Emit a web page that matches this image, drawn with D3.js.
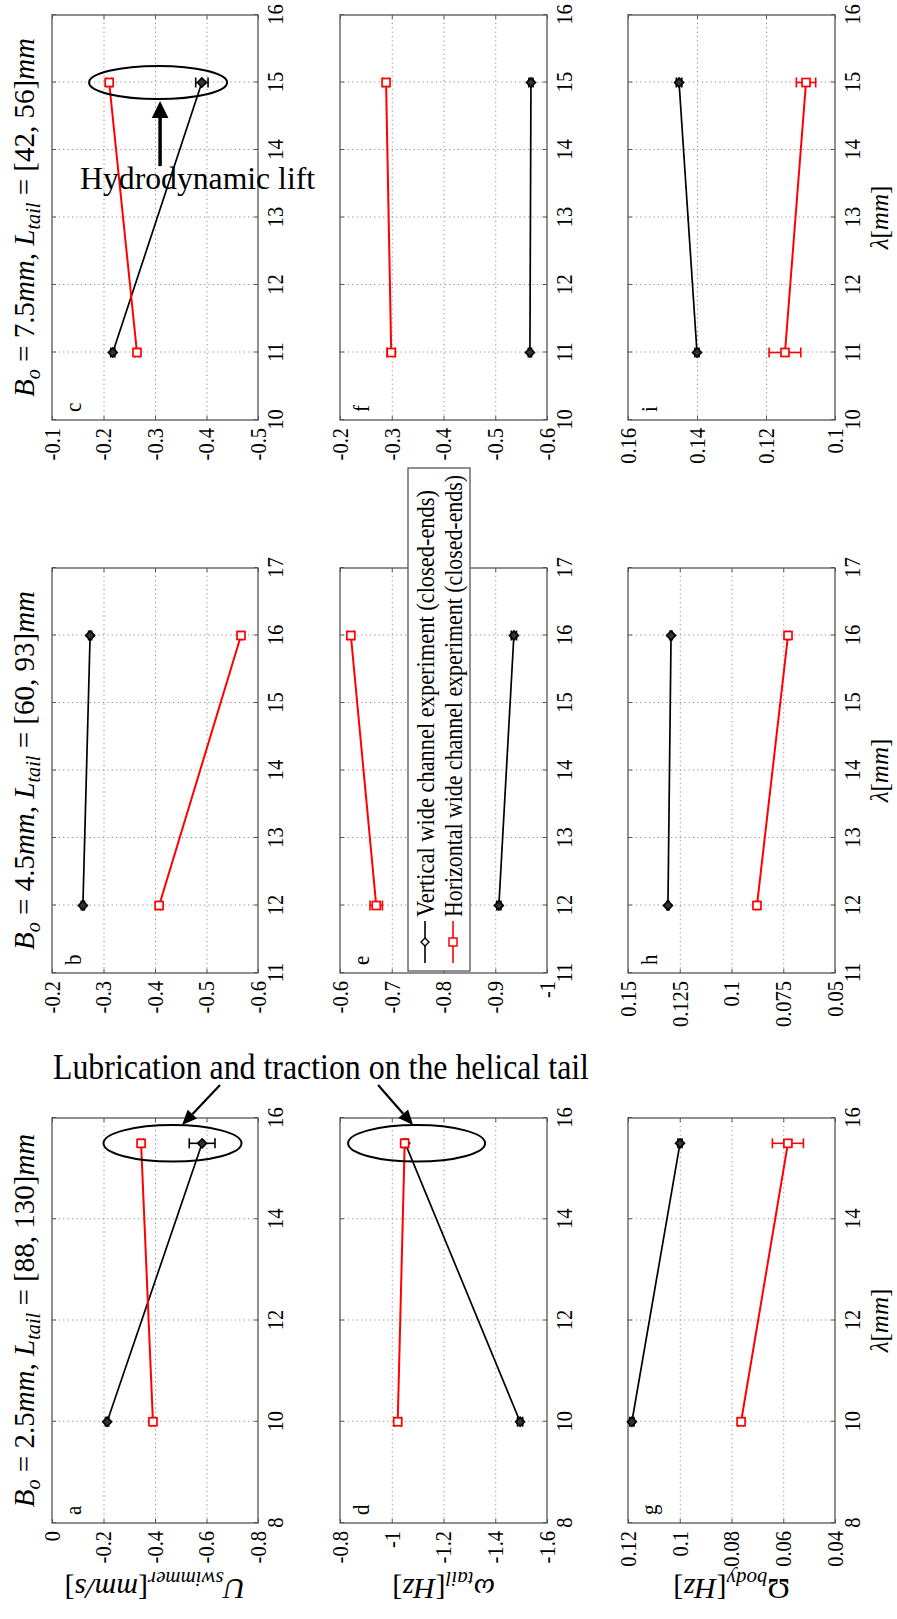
<!DOCTYPE html>
<html>
<head>
<meta charset="utf-8">
<title>Swimmer kinematics versus helix wavelength</title>
<script src="https://cdn.jsdelivr.net/npm/d3@7/dist/d3.min.js"></script>
<style>
  html, body { margin: 0; padding: 0; background: #fff; }
  svg { display: block; }
  text { font-family: "Liberation Serif", "Times New Roman", serif; fill: #000; }
</style>
</head>
<body>
<svg id="fig" width="897" height="1619"></svg>
<script>
// ---------------- data ----------------
// helix wavelength λ [mm] tested for each magnet size B_o
const lambdaB25 = [10, 15.5];
const lambdaB45 = [12, 16];
const lambdaB75 = [11, 15];

// swimmer velocity U_swimmer [mm/s]: vertical / horizontal channel, with error half-widths
const uVert25 = [-0.214, -0.583], uVertErr25 = [0.006, 0.05];
const uHorz25 = [-0.392, -0.346], uHorzErr25 = [0.006, 0.008];
const uVert45 = [-0.260, -0.274], uVertErr45 = [0.003, 0.003];
const uHorz45 = [-0.408, -0.567], uHorzErr45 = [0.003, 0.003];
const uVert75 = [-0.218, -0.391], uVertErr75 = [0.004, 0.012];
const uHorz75 = [-0.265, -0.211], uHorzErr75 = [0.004, 0.005];

// tail rotation rate ω_tail [Hz]
const wVert25 = [-1.496, -1.052], wVertErr25 = [0.01, 0.01];
const wHorz25 = [-1.023, -1.050], wHorzErr25 = [0.014, 0.01];
const wVert45 = [-0.907, -0.936], wVertErr45 = [0.004, 0.005];
const wHorz45 = [-0.670, -0.621], wHorzErr45 = [0.012, 0.006];
const wVert75 = [-0.567, -0.569], wVertErr75 = [0.003, 0.004];
const wHorz75 = [-0.299, -0.289], wHorzErr75 = [0.008, 0.005];

// body counter-rotation rate Ω_body [Hz]
const oVert25 = [0.1185, 0.0999], oVertErr25 = [0.0008, 0.0008];
const oHorz25 = [0.0763, 0.0582], oHorzErr25 = [0.001, 0.006];
const oVert45 = [0.1307, 0.1292], oVertErr45 = [0.0005, 0.0005];
const oHorz45 = [0.0877, 0.0727], oHorzErr45 = [0.0008, 0.0008];
const oVert75 = [0.1400, 0.1452], oVertErr75 = [0.0006, 0.0008];
const oHorz75 = [0.1145, 0.1084], oHorzErr75 = [0.0046, 0.0028];

// axis ticks
const lamTicks25 = [8, 10, 12, 14, 16];
const lamTicks45 = [11, 12, 13, 14, 15, 16, 17];
const lamTicks75 = [10, 11, 12, 13, 14, 15, 16];
const uTicks25 = [0, -0.2, -0.4, -0.6, -0.8];
const uTicks45 = [-0.2, -0.3, -0.4, -0.5, -0.6];
const uTicks75 = [-0.1, -0.2, -0.3, -0.4, -0.5];
const wTicks25 = [-0.8, -1, -1.2, -1.4, -1.6];
const wTicks45 = [-0.6, -0.7, -0.8, -0.9, -1];
const wTicks75 = [-0.2, -0.3, -0.4, -0.5, -0.6];
const oTicks25 = [0.12, 0.1, 0.08, 0.06, 0.04];
const oTicks45 = [0.15, 0.125, 0.1, 0.075, 0.05];
const oTicks75 = [0.16, 0.14, 0.12, 0.1];

const panelLetters = [["a", "b", "c"], ["d", "e", "f"], ["g", "h", "i"]];
const legendLabels = ["Vertical wide channel experiment (closed-ends)",
                      "Horizontal wide channel experiment (closed-ends)"];

// ---------------- layout ----------------
// The figure is laid out landscape (W x H) and turned a quarter turn onto the page.
const W = 1619, H = 897;
const colSpan = [[96, 501], [646, 1051], [1199, 1604]];
const rowSpan = [[52, 258], [340, 547], [628, 835]];
const GRID = "#8c8c8c", BOX = "#555";
const RED = "#ff0000", BLACK = "#000";
const TEXT_K = 1.13; // glyph height stretch of the plot lettering

const lambdaSets = [lambdaB25, lambdaB45, lambdaB75];
const lamTickSets = [lamTicks25, lamTicks45, lamTicks75];
const valTickSets = [[uTicks25, uTicks45, uTicks75], [wTicks25, wTicks45, wTicks75], [oTicks25, oTicks45, oTicks75]];
const vertSets = [[uVert25, uVert45, uVert75], [wVert25, wVert45, wVert75], [oVert25, oVert45, oVert75]];
const vertErrSets = [[uVertErr25, uVertErr45, uVertErr75], [wVertErr25, wVertErr45, wVertErr75], [oVertErr25, oVertErr45, oVertErr75]];
const horzSets = [[uHorz25, uHorz45, uHorz75], [wHorz25, wHorz45, wHorz75], [oHorz25, oHorz45, oHorz75]];
const horzErrSets = [[uHorzErr25, uHorzErr45, uHorzErr75], [wHorzErr25, wHorzErr45, wHorzErr75], [oHorzErr25, oHorzErr45, oHorzErr75]];

const svg = d3.select("#fig");
svg.append("rect").attr("width", 897).attr("height", 1619).attr("fill", "#fff");
const fig = svg.append("g").attr("transform", `translate(0,${W}) rotate(-90)`);

// landscape -> page coordinates
const toPage = (x, y) => [y, W - x];

function stretchY(sel, k) {
  sel.each(function () {
    const b = this.getBBox();
    const cy = b.y + b.height / 2;
    const prev = this.getAttribute("transform") || "";
    this.setAttribute("transform", `${prev} translate(0,${cy}) scale(1,${k}) translate(0,${-cy})`);
  });
}

// math-style label made of roman / italic / subscript pieces
function mathLabel(sel, parts, size) {
  sel.attr("font-size", size).attr("xml:space", "preserve").style("white-space", "pre");
  let shifted = false;
  parts.forEach(([txt, kind]) => {
    const t = sel.append("tspan").text(txt);
    if (kind === "s") {
      t.attr("font-style", "italic").attr("font-size", size * 0.7);
      if (!shifted) { t.attr("dy", size * 0.22); shifted = true; }
    } else {
      if (shifted) { t.attr("dy", -size * 0.22); shifted = false; }
      if (kind === "i") t.attr("font-style", "italic");
    }
  });
}

const diamond = r => `M0,${-r}L${r},0L0,${r}L${-r},0Z`;
const scales = {};

for (let r = 0; r < 3; r++) {
  for (let c = 0; c < 3; c++) {
    const [x0, x1] = colSpan[c];
    const [y0, y1] = rowSpan[r];
    const lt = lamTickSets[c];
    const vt = valTickSets[r][c];
    const x = d3.scaleLinear().domain([lt[0], lt[lt.length - 1]]).range([x0, x1]);
    const y = d3.scaleLinear().domain(d3.extent(vt)).range([y1, y0]);
    const letter = panelLetters[r][c];
    scales[letter] = { x, y };
    const g = fig.append("g").attr("class", "panel-" + letter);

    // dotted grid on the interior ticks
    const xin = lt.slice(1, -1);
    const vs = vt.slice().sort((a, b) => a - b);
    const yin = vs.slice(1, -1);
    g.append("g").attr("transform", `translate(0,${y1})`)
      .call(d3.axisBottom(x).tickValues(xin).tickSize(-(y1 - y0)).tickFormat(""))
      .call(s => s.select(".domain").remove())
      .selectAll("line").attr("stroke", GRID).attr("stroke-width", 1).attr("stroke-dasharray", "1.2,3.2");
    g.append("g").attr("transform", `translate(${x0},0)`)
      .call(d3.axisLeft(y).tickValues(yin).tickSize(-(x1 - x0)).tickFormat(""))
      .call(s => s.select(".domain").remove())
      .selectAll("line").attr("stroke", GRID).attr("stroke-width", 1).attr("stroke-dasharray", "1.2,3.2");

    // axes with inward ticks
    const fmt = d => String(d);
    const ax = g.append("g").attr("transform", `translate(0,${y1})`)
      .call(d3.axisBottom(x).tickValues(lt).tickSize(-4).tickPadding(10).tickFormat(fmt));
    const ay = g.append("g").attr("transform", `translate(${x0},0)`)
      .call(d3.axisLeft(y).tickValues(vt).tickSize(-4).tickPadding(8).tickFormat(fmt));
    g.append("g").attr("transform", `translate(0,${y0})`)
      .call(d3.axisTop(x).tickValues(lt).tickSize(-4).tickFormat(""));
    g.append("g").attr("transform", `translate(${x1},0)`)
      .call(d3.axisRight(y).tickValues(vt).tickSize(-4).tickFormat(""));
    g.selectAll(".domain").remove();
    g.selectAll(".tick line").filter(function () { return !this.getAttribute("stroke-dasharray"); })
      .attr("stroke", BOX).attr("stroke-width", 1);
    [ax, ay].forEach(a => a.attr("font-family", null).attr("font-size", null)
      .selectAll("text").attr("font-size", 20.5).attr("fill", "#000"));
    ax.selectAll("text").attr("dy", "0.71em");
    stretchY(ax.selectAll("text"), TEXT_K);
    stretchY(ay.selectAll("text"), TEXT_K);

    g.append("rect").attr("x", x0).attr("y", y0).attr("width", x1 - x0).attr("height", y1 - y0)
      .attr("fill", "none").attr("stroke", BOX).attr("stroke-width", 1.3);

    // panel letter
    const lab = g.append("text").attr("x", x0 + 8).attr("y", y0 + 28).attr("font-size", 21).text(letter);
    stretchY(lab, TEXT_K);

    // series: vertical channel (black diamonds), horizontal channel (red squares)
    const lam = lambdaSets[c];
    const series = [
      { vals: vertSets[r][c], errs: vertErrSets[r][c], color: BLACK, marker: "d", w: 1.7 },
      { vals: horzSets[r][c], errs: horzErrSets[r][c], color: RED, marker: "s", w: 2 }
    ];
    series.forEach(s => {
      const pts = lam.map((l, i) => ({ l, v: s.vals[i], e: s.errs[i] }));
      g.append("path").datum(pts)
        .attr("d", d3.line().x(p => x(p.l)).y(p => y(p.v)))
        .attr("fill", "none").attr("stroke", s.color).attr("stroke-width", s.w);
      const eb = g.append("g").attr("stroke", s.color).attr("stroke-width", 1.6);
      pts.forEach(p => {
        const px = x(p.l);
        eb.append("line").attr("x1", px).attr("x2", px).attr("y1", y(p.v - p.e)).attr("y2", y(p.v + p.e));
        [p.v - p.e, p.v + p.e].forEach(v => eb.append("line")
          .attr("x1", px - 5).attr("x2", px + 5).attr("y1", y(v)).attr("y2", y(v)));
      });
      const mk = g.append("g");
      pts.forEach(p => {
        if (s.marker === "s") {
          mk.append("rect").attr("x", x(p.l) - 4).attr("y", y(p.v) - 4).attr("width", 8).attr("height", 8)
            .attr("fill", "#fff").attr("stroke", s.color).attr("stroke-width", 1.7);
        } else {
          mk.append("path").attr("transform", `translate(${x(p.l)},${y(p.v)})`).attr("d", diamond(4.5))
            .attr("fill", "#333").attr("stroke", s.color).attr("stroke-width", 1.6);
        }
      });
    });
  }
}

// column titles
const titleParts = [
  [["B", "i"], ["o", "s"], [" = 2.5", "r"], ["mm", "i"], [", ", "r"], ["L", "i"], ["tail", "s"], [" = [88, 130]", "r"], ["mm", "i"]],
  [["B", "i"], ["o", "s"], [" = 4.5", "r"], ["mm", "i"], [", ", "r"], ["L", "i"], ["tail", "s"], [" = [60, 93]", "r"], ["mm", "i"]],
  [["B", "i"], ["o", "s"], [" = 7.5", "r"], ["mm", "i"], [", ", "r"], ["L", "i"], ["tail", "s"], [" = [42, 56]", "r"], ["mm", "i"]]
];
titleParts.forEach((parts, c) => {
  const t = fig.append("text").attr("x", (colSpan[c][0] + colSpan[c][1]) / 2).attr("y", 34)
    .attr("text-anchor", "middle");
  mathLabel(t, parts, 29);
});

// row labels
const rowLabelParts = [
  [["U", "i"], ["swimmer", "s"], ["[", "r"], ["mm/s", "i"], ["]", "r"]],
  [["ω", "i"], ["tail", "s"], ["[", "r"], ["Hz", "i"], ["]", "r"]],
  [["Ω", "r"], ["body", "s"], ["[", "r"], ["Hz", "i"], ["]", "r"]]
];
rowLabelParts.forEach((parts, r) => {
  const cy = (rowSpan[r][0] + rowSpan[r][1]) / 2;
  const t = fig.append("text").attr("transform", `translate(40,${cy}) rotate(-90)`)
    .attr("text-anchor", "middle");
  mathLabel(t, parts, 30);
});

// λ axis labels under the bottom row
colSpan.forEach(([a, b]) => {
  const t = fig.append("text").attr("x", (a + b) / 2).attr("y", 888).attr("text-anchor", "middle");
  mathLabel(t, [["λ", "i"], ["[", "r"], ["mm", "i"], ["]", "r"]], 25);
});

// legend inside panel e
{
  const x0 = colSpan[1][0], y0 = rowSpan[1][0];
  const lg = fig.append("g").attr("transform", `translate(${x0 + 2},${y0 + 68})`);
  lg.append("rect").attr("width", 503).attr("height", 62).attr("fill", "#fff")
    .attr("stroke", BOX).attr("stroke-width", 1.3);
  const rows = [
    { color: BLACK, marker: "d", len: 427 },
    { color: RED, marker: "s", len: 442 }
  ];
  rows.forEach((row, i) => {
    const yy = 17 + i * 28;
    lg.append("line").attr("x1", 8).attr("x2", 50).attr("y1", yy).attr("y2", yy)
      .attr("stroke", row.color).attr("stroke-width", 1.6);
    if (row.marker === "s") {
      lg.append("rect").attr("x", 25).attr("y", yy - 4).attr("width", 8).attr("height", 8)
        .attr("fill", "#fff").attr("stroke", row.color).attr("stroke-width", 1.5);
    } else {
      lg.append("path").attr("transform", `translate(29,${yy})`).attr("d", diamond(4))
        .attr("fill", "#fff").attr("stroke", row.color).attr("stroke-width", 1.4);
    }
    const t = lg.append("text").attr("x", 54).attr("y", yy).attr("dy", "0.35em").attr("font-size", 22)
      .attr("textLength", row.len).attr("lengthAdjust", "spacingAndGlyphs").text(legendLabels[i]);
    stretchY(t, TEXT_K);
  });
}

// ---------------- callouts ----------------
const callouts = [
  { panel: "c", lam: 15, val: -0.306, rx: 69, ry: 16.6 },
  { panel: "a", lam: 15.5, val: -0.468, rx: 69, ry: 18.3 },
  { panel: "d", lam: 15.5, val: -1.096, rx: 68.5, ry: 18.3 }
];
const ellCentres = callouts.map(e => {
  const s = scales[e.panel];
  const ox = s.x(e.lam), oy = s.y(e.val);
  fig.append("ellipse").attr("cx", ox).attr("cy", oy).attr("rx", e.ry).attr("ry", e.rx)
    .attr("fill", "none").attr("stroke", "#000").attr("stroke-width", 2);
  const [px, py] = toPage(ox, oy);
  return { px, py, rx: e.rx, ry: e.ry };
});

const notes = svg.append("g");
function arrowHead(tipX, tipY, fromX, fromY, len, half) {
  const a = Math.atan2(tipY - fromY, tipX - fromX);
  const bx = tipX - len * Math.cos(a), by = tipY - len * Math.sin(a);
  const nx = -Math.sin(a) * half, ny = Math.cos(a) * half;
  notes.append("path").attr("d", `M${tipX},${tipY}L${bx + nx},${by + ny}L${bx - nx},${by - ny}Z`).attr("fill", "#000");
  return [bx, by];
}

// hydrodynamic lift (panel c)
{
  const e = ellCentres[0];
  const tipX = e.px + 2, tipY = e.py + e.ry + 2;
  const startY = tipY + 65;
  const [bx, by] = arrowHead(tipX, tipY, tipX, startY, 17, 8.3);
  notes.append("line").attr("x1", tipX).attr("x2", bx).attr("y1", startY).attr("y2", by - 1)
    .attr("stroke", "#000").attr("stroke-width", 3.5);
  notes.append("text").attr("x", tipX - 80).attr("y", tipY + 88).attr("font-size", 32)
    .attr("textLength", 235).attr("lengthAdjust", "spacingAndGlyphs").text("Hydrodynamic lift");
}

// lubrication and traction (panels a and d)
{
  const ea = ellCentres[1], ed = ellCentres[2];
  const baseY = ea.py - ea.ry - 48;
  const t = notes.append("text").attr("x", 53).attr("y", baseY).attr("font-size", 31)
    .attr("textLength", 536).attr("lengthAdjust", "spacingAndGlyphs")
    .text("Lubrication and traction on the helical tail");
  stretchY(t, 1.18);
  const tips = [[ea.px + 9.5, ea.py - ea.ry], [ed.px - 3.5, ed.py - ed.ry]];
  const starts = [[ea.px + 47.5, baseY + 8], [ed.px - 38.5, baseY + 8]];
  tips.forEach(([tx, ty], i) => {
    const [sx, sy] = starts[i];
    const [bx, by] = arrowHead(tx, ty, sx, sy, 15, 6.5);
    notes.append("line").attr("x1", sx).attr("y1", sy).attr("x2", bx).attr("y2", by)
      .attr("stroke", "#000").attr("stroke-width", 2.2);
  });
}
</script>
</body>
</html>
